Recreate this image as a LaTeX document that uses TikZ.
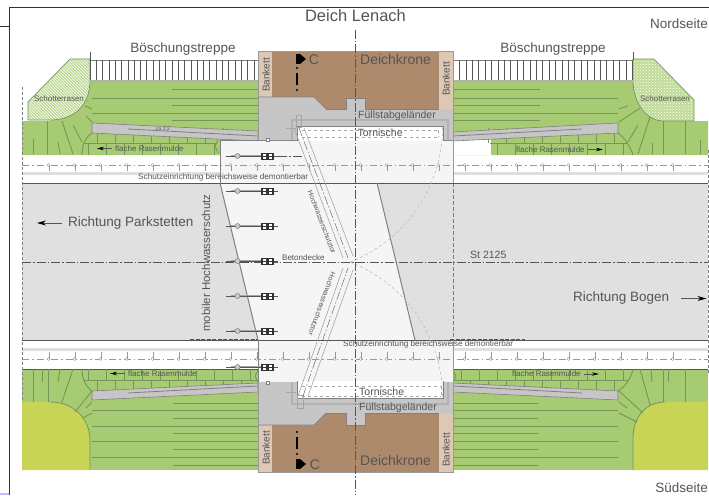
\documentclass[tikz,border=0pt]{standalone}
\usepackage{fontspec}
\setmainfont{Liberation Sans}
\usetikzlibrary{patterns}
\usetikzlibrary{arrows.meta}
\definecolor{lawn}{HTML}{A6CB72}
\definecolor{lawnline}{HTML}{769659}
\definecolor{schotter}{HTML}{BFDB97}
\definecolor{pond}{HTML}{C8D455}
\definecolor{road}{HTML}{E0E0E0}
\definecolor{deck}{HTML}{F5F5F5}
\definecolor{dike}{HTML}{AD8A6C}
\definecolor{berm}{HTML}{DCC8B4}
\definecolor{apron}{HTML}{C6C6C6}
\definecolor{ink}{HTML}{555555}
\tikzset{
  lbl/.style={font=\fontsize{#1}{#1}\selectfont,text=ink,inner sep=0pt},
  lawnln/.style={draw=lawnline,line width=0.9pt},
  centerln/.style={draw=ink,line width=0.5pt,dash pattern=on 9pt off 2pt on 1.5pt off 2pt},
  stripln/.style={draw=gray!80,line width=0.5pt,dash pattern=on 7pt off 3pt on 1.5pt off 3pt},
  gateln/.style={draw=gray!70,line width=0.6pt},
  swingln/.style={draw=gray!50,line width=0.6pt,dash pattern=on 3pt off 2.5pt},
  dirarrow/.style={draw=ink,line width=0.8pt,-{Stealth[length=9pt,width=5pt,black]}},
  smallarrow/.style={draw=ink,line width=0.6pt,-{Stealth[length=7pt,width=3.5pt,black]}},
}
\begin{document}
\begin{tikzpicture}[x=1pt,y=-1pt]
\useasboundingbox (0,0) rectangle (709,495);
\fill[white] (0,0) rectangle (709,495);
\fill[blue!25] (0,493) rectangle (9,495);
\draw[black!80,line width=1pt] (9,495) -- (9,8) -- (709,8);
\draw[black!80,line width=1pt] (0,27) -- (9,27);

% road and side strips
\fill[road] (22,183) rectangle (708,340);
\fill[gray!25] (22,172) rectangle (708,175);
\fill[gray!25] (22,348) rectangle (708,351);
\draw[ink,line width=0.9pt] (22,183) -- (708,183);
\draw[ink,line width=0.9pt] (22,340) -- (708,340);

% north lawns
\fill[lawn] (22,121) -- (50,121) -- (90,81) -- (258,81) -- (258,155) -- (22,155) -- cycle;
\fill[lawn] (453,81) -- (633,81) -- (663,121) -- (708,121) -- (708,155) -- (453,155) -- cycle;
\fill[white] (453,139) rectangle (491,155);
\fill[lawn] (491,139) arc (90:270:8) -- (540,155) -- (540,139) -- cycle;
% south lawns
\fill[lawn] (22,369) rectangle (258,470);
\fill[lawn] (453,369) rectangle (708,470);
\fill[pond] (22,402) -- (50,402) .. controls (75,402) and (90,420) .. (90,440) -- (90,470) -- (22,470) -- cycle;
\draw[lawnline,line width=0.8pt] (50,402) .. controls (75,402) and (90,420) .. (90,440) -- (90,470);
\fill[pond] (708,402) -- (665,402) .. controls (645,402) and (633,418) .. (633,438) -- (633,470) -- (708,470) -- cycle;
\draw[lawnline,line width=0.8pt] (665,402) .. controls (645,402) and (633,418) .. (633,438) -- (633,470);
\draw[ink,line width=0.6pt] (22,369) -- (258,369);
\draw[ink,line width=0.6pt] (453,369) -- (708,369);

% gravel lawn
\fill[schotter] (28,120) -- (28,102) -- (70,59) -- (90,59) -- (90,80) .. controls (90,105) and (75,120) .. (50,120) -- cycle;
\fill[pattern=north west lines,pattern color=white] (28,120) -- (28,102) -- (70,59) -- (90,59) -- (90,80) .. controls (90,105) and (75,120) .. (50,120) -- cycle;
\draw[lawnline,line width=0.7pt] (28,120) -- (28,102) -- (70,59) -- (90,59) -- (90,80) .. controls (90,105) and (75,120) .. (50,120) -- cycle;
\fill[schotter] (694,121) -- (694,100) -- (654,59) -- (633,59) -- (633,80) .. controls (633,105) and (648,121) .. (663,121) -- cycle;
\fill[pattern=crosshatch dots,pattern color=white] (694,121) -- (694,100) -- (654,59) -- (633,59) -- (633,80) .. controls (633,105) and (648,121) .. (663,121) -- cycle;
\draw[lawnline,line width=0.7pt] (694,121) -- (694,100) -- (654,59) -- (633,59) -- (633,80) .. controls (633,105) and (648,121) .. (663,121) -- cycle;

% long lines in the lawns
\foreach \y in {98,113} {\draw[lawnln] (92,\y) -- (258,\y); \draw[lawnln] (453,\y) -- (618,\y);}
\foreach \y in {89,105,120} {\draw[lawnln] (172,\y) -- (258,\y); \draw[lawnln] (453,\y) -- (540,\y);}
\foreach \y in {410,426,441,457} {\draw[lawnln] (92,\y) -- (258,\y); \draw[lawnln] (453,\y) -- (618,\y);}
\foreach \y in {403,418,433,449,465} {\draw[lawnln] (173,\y) -- (258,\y); \draw[lawnln] (453,\y) -- (538,\y);}

% radial lines
\draw[lawnln] (85,106) -- (92,109);
\draw[lawnln] (86,116) -- (92,122);
\draw[lawnln] (73,125) -- (82,142);
\draw[lawnln] (62,121) -- (73,154);
\draw[lawnln] (47,121) -- (47,154);
\draw[lawnln] (58,142) -- (60,154);
\draw[lawnln] (33,139) -- (33,154);
\draw[lawnln] (619,109) -- (628,106);
\draw[lawnln] (619,122) -- (640,108);
\draw[lawnln] (628,142) -- (638,125);
\draw[lawnln] (638,154) -- (650,117);
\draw[lawnln] (652,143) -- (652,154);
\draw[lawnln] (663,121) -- (663,154);
\draw[lawnln] (685,121) -- (685,154);
\draw[lawnln] (700,140) -- (700,154);
\draw[lawnln] (92,413) -- (83,418);
\draw[lawnln] (92,402) -- (86,408);
\draw[lawnln] (92,391) -- (75,412);
\draw[lawnln] (73,369) -- (62,402);
\draw[lawnln] (60,369) -- (58,382);
\draw[lawnln] (48,369) -- (48,402);
\draw[lawnln] (42,369) -- (42,382);
\draw[lawnln] (33,369) -- (33,402);
\draw[lawnln] (619,413) -- (637,422);
\draw[lawnln] (619,402) -- (627,408);
\draw[lawnln] (619,391) -- (643,413);
\draw[lawnln] (640,369) -- (650,405);
\draw[lawnln] (651,369) -- (652,382);
\draw[lawnln] (663,369) -- (663,402);
\draw[lawnln] (668,369) -- (668,382);
\draw[lawnln] (685,369) -- (685,402);

% flat swales
\draw[lawnln] (83,143) -- (216,143);
\draw[lawnln] (92,133) .. controls (85,138) and (82,145) .. (82,155);
\draw[lawnln] (490,143) -- (628,143);
\draw[lawnln] (618,133) .. controls (625,138) and (630,146) .. (633,155);
\draw[lawnln] (84,380) -- (258,380);
\draw[lawnln] (92,391) .. controls (85,386) and (82,378) .. (82,369);
\draw[lawnln] (453,380) -- (628,380);
\draw[lawnln] (618,391) .. controls (626,386) and (631,378) .. (633,369);
\foreach \x in {88,106,...,214} {
  \draw[lawnln,line width=0.6pt] (\x,143) -- (\x,155);
  \draw[lawnln,line width=0.6pt] (\x+9,128) -- (\x+9,143);
}
\foreach \x in {497,515,...,623} {
  \draw[lawnln,line width=0.6pt] (\x,143) -- (\x,155);
  \draw[lawnln,line width=0.6pt] (\x-9,128) -- (\x-9,143);
}
\foreach \x in {88,106,...,250} {
  \draw[lawnln,line width=0.6pt] (\x,369) -- (\x,380);
  \draw[lawnln,line width=0.6pt] (\x+9,380) -- (\x+9,392);
}
\foreach \x in {461,479,...,623} {
  \draw[lawnln,line width=0.6pt] (\x,369) -- (\x,380);
  \draw[lawnln,line width=0.6pt] (\x-9,380) -- (\x-9,392);
}
\draw[lawnln] (218,140) -- (215,146) -- (218,153);
\draw[lawnln] (258,370) -- (255,376) -- (258,382);
\draw[lawnln] (453,370) -- (456,376) -- (453,382);

% sloped ramps
\draw[fill=apron,draw=gray,line width=0.6pt] (92,123) -- (258,131) -- (258,141) -- (92,133) -- cycle;
\draw[gray,line width=0.8pt] (128,129) -- (258,136);
\draw[fill=apron,draw=gray,line width=0.6pt] (618,123) -- (453,132) -- (453,141) -- (618,133) -- cycle;
\draw[gray,line width=0.8pt] (582,129) -- (453,136);
\draw[fill=apron,draw=gray,line width=0.6pt] (92,391) -- (258,383) -- (258,392) -- (92,400) -- cycle;
\draw[gray,line width=0.8pt] (128,393) -- (258,386);
\draw[fill=apron,draw=gray,line width=0.6pt] (618,391) -- (453,383) -- (453,392) -- (618,400) -- cycle;
\draw[gray,line width=0.8pt] (582,393) -- (453,386);

% stairs
\draw[gray,line width=0.8pt] (90,60) -- (258,60);
\fill[gray!60] (90,79.5) rectangle (258,81.5);
\draw[gray,line width=0.8pt] (453,60) -- (633,60);
\fill[gray!60] (453,79.5) rectangle (633,81.5);
\foreach \n in {0,...,26} {\draw[ink,line width=0.5pt] (90+6.3*\n,60) -- (90+6.3*\n,80);}
\foreach \n in {0,...,28} {\draw[ink,line width=0.5pt] (453+6.4*\n,60) -- (453+6.4*\n,80);}
\draw[ink,line width=0.5pt] (90,52) -- (90,60);
\draw[ink,line width=0.5pt] (633,52) -- (633,60);

% movable deck
\fill[deck] (220,140) -- (453,140) -- (453,183) -- (377,183) -- (415,340) -- (453,340) -- (453,382) -- (258,382) -- (258,340) -- (220,183) -- cycle;
\draw[ink,line width=0.9pt] (220,183) -- (453,183);
\draw[ink,line width=0.9pt] (258,340) -- (453,340);
\draw[gray,line width=0.5pt] (220,183) -- (220,140) -- (453,140);
\draw[gray,line width=0.5pt] (258,340) -- (258,382);
\draw[gray!80,line width=0.9pt] (453,140) -- (453,183);
\draw[gray!80,line width=0.9pt] (453,340) -- (453,382);
\draw[gray,line width=0.5pt,dash pattern=on 4pt off 2pt] (453,183) -- (453,340);
\draw[ink,line width=1pt,dash pattern=on 4pt off 1.5pt] (453,183) -- (525,183);
\draw[ink,line width=1pt,dash pattern=on 4pt off 1.5pt] (150,183) -- (220,183);
\draw[ink,line width=1pt,dash pattern=on 4pt off 1.5pt] (450,339) -- (525,339);
\draw[ink,line width=1pt,dash pattern=on 4pt off 1.5pt] (190,339) -- (258,339);
\draw[gray,line width=1pt] (220,183) -- (258,340);
\draw[gray,line width=1pt] (377,183) -- (415,340);

% side markings on the strips
\draw[stripln] (22,165) -- (708,165);
\draw[stripln] (22,359) -- (708,359);
\foreach \n in {0,...,24} {
  \draw[gray!80,line width=0.4pt,fill=white] (48.7+26*\n,165) circle (1.5);
  \draw[gray!80,line width=0.4pt] (48.7+26*\n,165) -- (48.7+26*\n,171);
  \draw[gray!80,line width=0.4pt,fill=white] (48.7+26*\n,359) circle (1.5);
  \draw[gray!80,line width=0.4pt] (48.7+26*\n,359) -- (48.7+26*\n,352);
}
\draw[gray,line width=0.7pt,dash pattern=on 3pt off 2pt] (22,87) -- (22,402);
\draw[gray,line width=0.7pt,dash pattern=on 3pt off 2pt] (708,150) -- (708,375);
\draw[centerln] (22,262) -- (708,262);

% dike crest north
\fill[berm] (258,51) rectangle (272,98);
\fill[berm] (439,51) rectangle (453,110);
\fill[dike] (272,51) rectangle (439,110);
\fill[apron] (258,97) -- (314,97) -- (326,109) -- (346,109) -- (346,98) -- (365,98) -- (365,109) -- (453,109) -- (453,140) -- (258,140) -- cycle;
\draw[gray,line width=0.7pt] (326,109) -- (346,109) -- (346,98) -- (365,98) -- (365,109) -- (439,109);
\draw[gray,line width=0.7pt] (258,97) -- (314,97) -- (326,109);
\draw[gray!80,line width=0.7pt] (258,140) -- (258,51) -- (453,51) -- (453,140);
% dike crest south
\fill[berm] (258,425) rectangle (272,472);
\fill[berm] (439,413) rectangle (453,472);
\fill[dike] (272,413) rectangle (439,472);
\fill[apron] (258,425) -- (314,425) -- (326,413) -- (346,413) -- (346,425) -- (365,425) -- (365,413) -- (453,413) -- (453,382) -- (258,382) -- cycle;
\draw[gray,line width=0.7pt] (326,413) -- (346,413) -- (346,425) -- (365,425) -- (365,413) -- (439,413);
\draw[gray,line width=0.7pt] (258,425) -- (314,425) -- (326,413);
\draw[gray!80,line width=0.7pt] (258,382) -- (258,472) -- (453,472) -- (453,382);

% gate recesses
\draw[gray!60,line width=1.2pt] (292,140) -- (292,120) -- (448,120) -- (448,140);
\draw[fill=white,draw=gray,line width=0.7pt] (297,141) -- (297,126) -- (443,126) -- (443,141);
\draw[gateln,dashed] (302,130) -- (438,130);
\draw[gateln,dashed] (302,137) -- (438,137);
\draw[gateln,dashed] (438,130) -- (438,137);
\draw[gray!60,line width=1.2pt] (292,382) -- (292,404) -- (448,404) -- (448,382);
\draw[fill=white,draw=gray,line width=0.7pt] (297,381) -- (297,398) -- (443,398) -- (443,381);
\draw[gateln,dashed] (302,386) -- (441,386);
\draw[gateln,dashed] (302,396) -- (441,396);
\draw[gateln,dashed] (441,386) -- (441,396);
\draw[gray,line width=0.5pt,fill=white] (266,138) rectangle (269,141);
\draw[gray,line width=0.5pt,fill=white] (266,381) rectangle (269,384);
\draw[gateln] (296,115) rectangle (301,127);
\draw[gateln] (297,395) rectangle (303,408);
\draw[gateln] (286,128) -- (296,128);
\draw[gateln] (286,392) -- (296,392);

% gate leaves
\draw[gateln] (294,128) -- (343,258);
\draw[gateln] (304,128) -- (353,256);
\draw[centerln,line width=0.4pt] (299,128) -- (348,258);
\draw[gateln] (298,396) -- (343,268);
\draw[gateln] (308,396) -- (353,270);
\draw[centerln,line width=0.4pt] (303,396) -- (348,268);
\draw[swingln] (350,262) arc (68.8:0:145);
\draw[swingln] (350,262) arc (-68.8:0:145);

% pipes of the mobile protection
\foreach \y in {156,191,226,261,296,331,367} {
  \draw[gray!70,line width=2pt] (231,\y) -- (262,\y);
  \draw[ink,line width=0.5pt] (226,\y) -- (278,\y);
  \draw[gray,line width=0.5pt,fill=gray!40] (237.5,\y) circle (2.5);
  \fill[black!80] (261,\y-3.5) rectangle (274,\y+3.5);
  \fill[white] (263,\y-2.5) rectangle (266,\y-0.5);
  \fill[white] (263,\y+0.5) rectangle (266,\y+2.5);
  \fill[white] (269,\y-2.5) rectangle (272,\y-0.5);
  \fill[white] (269,\y+0.5) rectangle (272,\y+2.5);
}
\draw[centerln,line width=0.4pt] (278,156) -- (302,156);

% dike axis
\draw[centerln] (355,30) -- (355,495);

% crest symbols
\fill[black] (296,54) rectangle (300,64);
\fill[black] (300,54) -- (306,59) -- (300,64) -- cycle;
\fill[black] (297,68) circle (1.2);
\fill[black] (296.2,73) rectangle (297.8,85);
\fill[black] (297,90) circle (1.2);
\fill[black] (296,459) rectangle (300,469);
\fill[black] (300,459) -- (306,464) -- (300,469) -- cycle;
\fill[black] (297,432) circle (1.2);
\fill[black] (296.2,437) rectangle (297.8,449);
\fill[black] (297,454) circle (1.2);

% labels
\node[lbl=16.5] (lenach) at (355.5,16) {Deich Lenach};
\node[lbl=13.5,anchor=east] (nord) at (708,24) {Nordseite};
\node[lbl=13.5,anchor=east] (sued) at (708,487.5) {Südseite};
\node[lbl=13.5] (treppeL) at (183,49) {Böschungstreppe};
\node[lbl=13.5] (treppeR) at (553,49) {Böschungstreppe};
\node[lbl=14,anchor=west] (kroneN) at (360,59.5) {Deichkrone};
\node[lbl=14,anchor=west] (kroneS) at (360,460) {Deichkrone};
\node[lbl=14] (cN) at (314,59.5) {C};
\node[lbl=14] (cS) at (315,464.5) {C};
\node[lbl=10,rotate=90] (banNL) at (266,75) {Bankett};
\node[lbl=10,rotate=90] (banNR) at (446,79) {Bankett};
\node[lbl=10,rotate=90] (banSL) at (266,448) {Bankett};
\node[lbl=10,rotate=90] (banSR) at (446,450) {Bankett};
\node[lbl=10.5,anchor=west] (fuellN) at (358,115.5) {Füllstabgeländer};
\node[lbl=10.5,anchor=west] (fuellS) at (359,407.5) {Füllstabgeländer};
\node[lbl=10.5,anchor=west] (nischeN) at (357.5,132.5) {Tornische};
\node[lbl=10.5,anchor=west] (nischeS) at (359,391.5) {Tornische};
\node[lbl=8] (schotterL) at (59,99) {Schotterrasen};
\node[lbl=8] (schotterR) at (665,99) {Schotterrasen};
\node[lbl=5] (neigung) at (163,129) {ca 1:2};
\node[lbl=8,anchor=west] (muldeNL) at (115,148.5) {flache Rasenmulde};
\node[lbl=8,anchor=west] (muldeNR) at (516,149.5) {flache Rasenmulde};
\node[lbl=8,anchor=west] (muldeSL) at (128,373.5) {flache Rasenmulde};
\node[lbl=8,anchor=west] (muldeSR) at (512,374) {flache Rasenmulde};
\draw[smallarrow] ([xshift=-3pt]muldeNL.west) -- ++(-15,0);
\draw[smallarrow] ([xshift=3pt]muldeNR.east) -- ++(15,0);
\draw[smallarrow] ([xshift=-3pt]muldeSL.west) -- ++(-15,0);
\draw[smallarrow] ([xshift=3pt]muldeSR.east) -- ++(15,0);
\node[lbl=8.2,anchor=west] (schutzN) at (138,177.5) {Schutzeinrichtung bereichsweise demontierbar};
\node[lbl=8.2,anchor=west] (schutzS) at (343,344.5) {Schutzeinrichtung bereichsweise demontierbar};
\node[lbl=13.5,anchor=west] (park) at (68,223) {Richtung Parkstetten};
\node[lbl=13.5,anchor=west] (bogen) at (573,298.5) {Richtung Bogen};
\draw[dirarrow] ([xshift=-6pt]park.west) -- ++(-25,0);
\draw[dirarrow] ([xshift=12pt]bogen.east) -- ++(25,0);
\node[lbl=10.5,anchor=west] (st) at (470,255) {St 2125};
\node[lbl=8,anchor=west] (beton) at (282,258) {Betondecke};
\node[lbl=11.5,rotate=90] (mobil) at (206,263) {mobiler Hochwasserschutz};
\node[lbl=7,rotate=-69] (torN) at (322,222) {Hochwasserschutztor};
\node[lbl=7,rotate=-110] (torS) at (322,304) {Hochwasserschutztor};
\end{tikzpicture}
\end{document}
